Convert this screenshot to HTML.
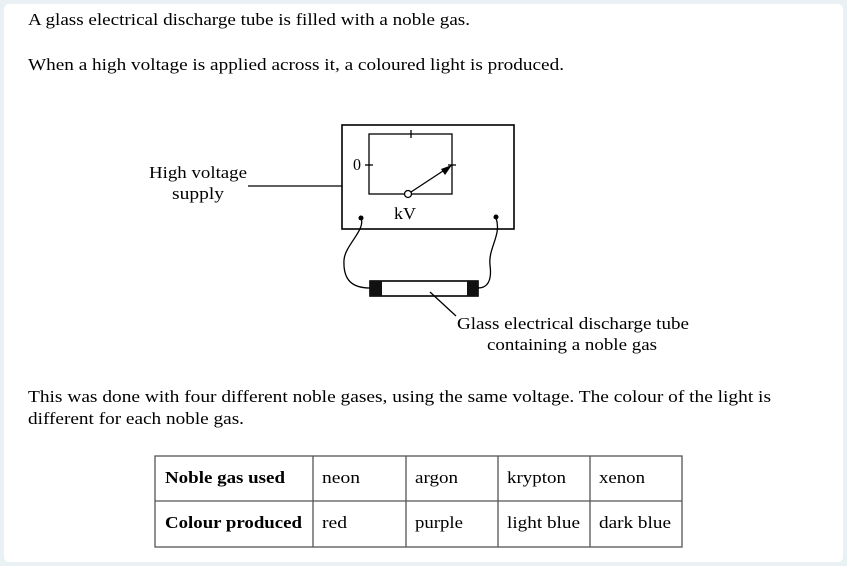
<!DOCTYPE html>
<html><head><style>
html,body{margin:0;padding:0;background:#e9f1f4;}
svg{display:block;}
text{font-family:"Liberation Serif","Times New Roman",serif;font-size:17px;fill:#000;}
</style></head><body>
<svg width="847" height="566" viewBox="0 0 847 566">
<rect x="4" y="4" width="839" height="558" rx="5" fill="#fff"/>
<text x="28" y="25" textLength="442" lengthAdjust="spacingAndGlyphs">A glass electrical discharge tube is filled with a noble gas.</text>
<text x="28" y="70" textLength="536" lengthAdjust="spacingAndGlyphs">When a high voltage is applied across it, a coloured light is produced.</text>
<g stroke="#000" fill="none" stroke-width="1.3">
<rect x="342" y="125" width="172" height="104" stroke-width="1.6"/>
<rect x="369" y="134" width="83" height="60"/>
<line x1="411" y1="130" x2="411" y2="138"/>
<line x1="365" y1="165" x2="373" y2="165"/>
<line x1="448" y1="165" x2="456" y2="165"/>
<line x1="248" y1="186" x2="342" y2="186"/>
<line x1="411" y1="192" x2="446" y2="169"/>
<path d="M361 218 C366 230 345 245 344 260 C343 280 352 288 370 288"/>
<path d="M496 218 C502 235 488 248 490 265 C492 280 488 288 478 288"/>
<line x1="430" y1="292" x2="456" y2="316"/>
<rect x="370" y="281" width="108" height="15" stroke-width="1.6"/>
</g>
<path d="M452 165 L441 169 L445 175 Z" fill="#000"/>
<circle cx="408" cy="194" r="3.5" fill="#fff" stroke="#000" stroke-width="1.3"/>
<circle cx="361" cy="218" r="2.5" fill="#000"/>
<circle cx="496" cy="217" r="2.5" fill="#000"/>
<rect x="370" y="281" width="12" height="15" fill="#111"/>
<rect x="467" y="281" width="11" height="15" fill="#111"/>
<text x="353" y="170" font-size="15" textLength="8" lengthAdjust="spacingAndGlyphs">0</text>
<text x="394" y="219" textLength="22" lengthAdjust="spacingAndGlyphs">kV</text>
<text x="149" y="178" textLength="98" lengthAdjust="spacingAndGlyphs">High voltage</text>
<text x="172" y="199" textLength="52" lengthAdjust="spacingAndGlyphs">supply</text>
<text x="457" y="329" textLength="232" lengthAdjust="spacingAndGlyphs">Glass electrical discharge tube</text>
<text x="487" y="350" textLength="170" lengthAdjust="spacingAndGlyphs">containing a noble gas</text>
<text x="28" y="402" textLength="743" lengthAdjust="spacingAndGlyphs">This was done with four different noble gases, using the same voltage.  The colour of the light is</text>
<text x="28" y="424" textLength="216" lengthAdjust="spacingAndGlyphs">different for each noble gas.</text>
<g stroke="#555" stroke-width="1.3" fill="none">
<rect x="155" y="456" width="527" height="91"/>
<line x1="155" y1="501" x2="682" y2="501"/>
<line x1="313" y1="456" x2="313" y2="547"/>
<line x1="406" y1="456" x2="406" y2="547"/>
<line x1="498" y1="456" x2="498" y2="547"/>
<line x1="590" y1="456" x2="590" y2="547"/>
</g>
<text x="165" y="483" font-weight="bold" textLength="120" lengthAdjust="spacingAndGlyphs">Noble gas used</text>
<text x="165" y="528" font-weight="bold" textLength="137" lengthAdjust="spacingAndGlyphs">Colour produced</text>
<text x="322" y="483" textLength="38" lengthAdjust="spacingAndGlyphs">neon</text>
<text x="322" y="528" textLength="25" lengthAdjust="spacingAndGlyphs">red</text>
<text x="415" y="483" textLength="43" lengthAdjust="spacingAndGlyphs">argon</text>
<text x="415" y="528" textLength="48" lengthAdjust="spacingAndGlyphs">purple</text>
<text x="507" y="483" textLength="59" lengthAdjust="spacingAndGlyphs">krypton</text>
<text x="507" y="528" textLength="73" lengthAdjust="spacingAndGlyphs">light blue</text>
<text x="599" y="483" textLength="46" lengthAdjust="spacingAndGlyphs">xenon</text>
<text x="599" y="528" textLength="72" lengthAdjust="spacingAndGlyphs">dark blue</text>
</svg>
</body></html>
